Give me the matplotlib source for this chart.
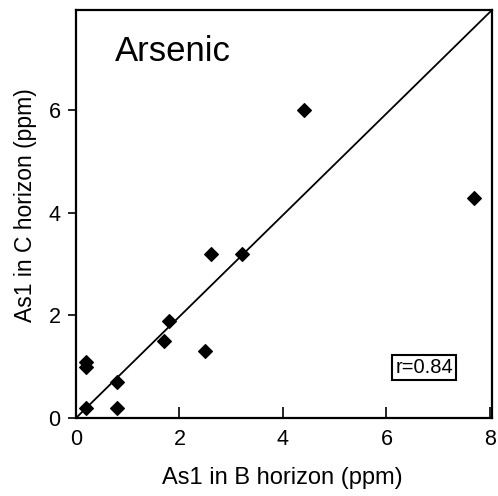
import matplotlib
matplotlib.use("Agg")
import matplotlib.pyplot as plt
import numpy as np

plt.rcParams['font.family'] = ['Liberation Sans', 'DejaVu Sans']

# data: As1 in B horizon (x) vs C horizon (y), ppm
b_horizon = [0.2, 0.2, 0.2, 0.8, 0.8, 1.7, 1.8, 2.5, 2.6, 3.2, 4.4, 7.7]
c_horizon = [1.1, 1.0, 0.2, 0.7, 0.2, 1.5, 1.9, 1.3, 3.2, 3.2, 6.0, 4.3]
fit_slope = 0.99
fit_intercept = 0.0
r_value = 0.84
x_ticks = [0, 2, 4, 6, 8]
y_ticks = [0, 2, 4, 6]

fig = plt.figure(figsize=(4.98, 4.96), dpi=100)
ax = fig.add_axes([76/498, (496-418)/496, (492-76)/498, (418-10)/496])

ax.plot(b_horizon, c_horizon, linestyle='none', marker='D', markersize=7.6,
        color='black', markeredgewidth=0.8, zorder=3)

xl = np.array([0.0, 8.1])
ax.plot(xl, fit_intercept + fit_slope * xl, color='black', linewidth=1.3, zorder=2)

ax.set_xlim(0, 8.04)
ax.set_ylim(0, 7.96)
ax.set_xticks(x_ticks)
ax.set_yticks(y_ticks)
ax.tick_params(axis='x', direction='in', length=8, width=1.2, labelsize=15.5, pad=8)
ax.tick_params(axis='y', direction='out', length=6, width=1.2, labelsize=15.5, pad=5)
for s in ax.spines.values():
    s.set_linewidth(1.6)

ax.set_xlabel('As1 in B horizon (ppm)', fontsize=17)
ax.xaxis.set_label_coords(0.497, -(478 - 418) / 408)
ax.xaxis.label.set_va('center')
ax.set_ylabel('As1 in C horizon (ppm)', fontsize=16.5)
ax.yaxis.set_label_coords(-(76 - 37) / 416, (418 - 205) / 408)

ax.text(0.76, 7.16, 'Arsenic', fontsize=25, ha='left', va='center')
ax.text(6.73, 0.98, 'r=%.2f' % r_value, fontsize=14.5, ha='center', va='center',
        bbox=dict(boxstyle='square,pad=0.15', facecolor='white', edgecolor='black', linewidth=1.5))

fig.savefig('out.png', dpi=100)
